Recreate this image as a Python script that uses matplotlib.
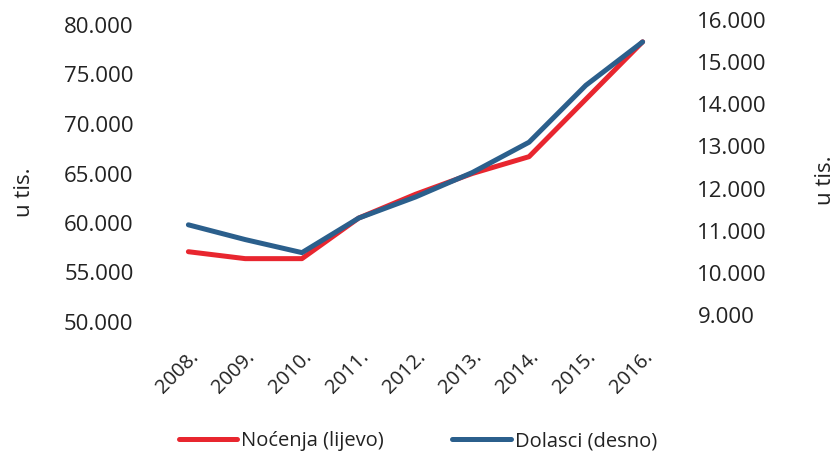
import matplotlib.pyplot as plt
from matplotlib.ticker import FuncFormatter

# Data
years = ['2008.', '2009.', '2010.', '2011.', '2012.', '2013.', '2014.', '2015.', '2016.']
nocenja = [57100, 56400, 56400, 60500, 62900, 65000, 66700, 72500, 78300]   # left axis
dolasci = [11140, 10790, 10480, 11300, 11800, 12380, 13100, 14450, 15480]   # right axis

red = '#e8262f'
blue = '#2b5f8c'
txt = '#222222'
plt.rcParams['font.family'] = ['Open Sans', 'DejaVu Sans']

W, H = 837, 462
fig = plt.figure(figsize=(W / 100, H / 100), dpi=100)

def box(l, t, r, b):
    return [l / W, 1 - b / H, (r - l) / W, (b - t) / H]

ax = fig.add_axes(box(160, 25, 671, 322))
ax2 = fig.add_axes(box(160, 20, 671, 315), sharex=ax)
ax2.patch.set_visible(False)

x = range(len(years))
l1, = ax.plot(x, nocenja, color=red, lw=3.6, solid_capstyle='round', label='Noćenja (lijevo)')
l2, = ax2.plot(x, dolasci, color=blue, lw=3.6, solid_capstyle='round', label='Dolasci (desno)')

fmt = FuncFormatter(lambda v, p: f'{v:,.0f}'.replace(',', '.'))

ax.set_xlim(-0.5, len(years) - 0.5)
ax.set_ylim(50000, 80000)
ax.set_yticks(range(50000, 80001, 5000))
ax.yaxis.set_major_formatter(fmt)
ax.set_xticks(list(x))
ax.set_xticklabels(years, rotation=45, ha='right', rotation_mode='anchor', fontsize=14.5, color=txt)
ax.tick_params(axis='x', length=0, pad=18)
ax.tick_params(axis='y', length=0, pad=19, labelsize=16, labelcolor=txt)

ax2.set_ylim(9000, 16000)
ax2.set_yticks(range(9000, 16001, 1000))
ax2.yaxis.set_major_formatter(fmt)
ax2.yaxis.tick_right()
ax2.tick_params(axis='y', length=0, pad=19, labelsize=16, labelcolor=txt)
ax2.tick_params(axis='x', which='both', bottom=False, labelbottom=False)

for a in (ax, ax2):
    for s in a.spines.values():
        s.set_visible(False)

fig.text(25 / W, 1 - 192 / H, 'u tis.', rotation=90, ha='center', va='center', fontsize=16, color=txt)
fig.text(826 / W, 1 - 180 / H, 'u tis.', rotation=90, ha='center', va='center', fontsize=16, color=txt)

fig.legend(handles=[l1, l2], loc='center', bbox_to_anchor=(418 / W, 1 - 441 / H), ncol=2,
           frameon=False, fontsize=14.5, handlelength=2.9, handletextpad=0.2,
           columnspacing=3.4, labelcolor=txt)

fig.savefig('out.png', dpi=100, facecolor='white')
